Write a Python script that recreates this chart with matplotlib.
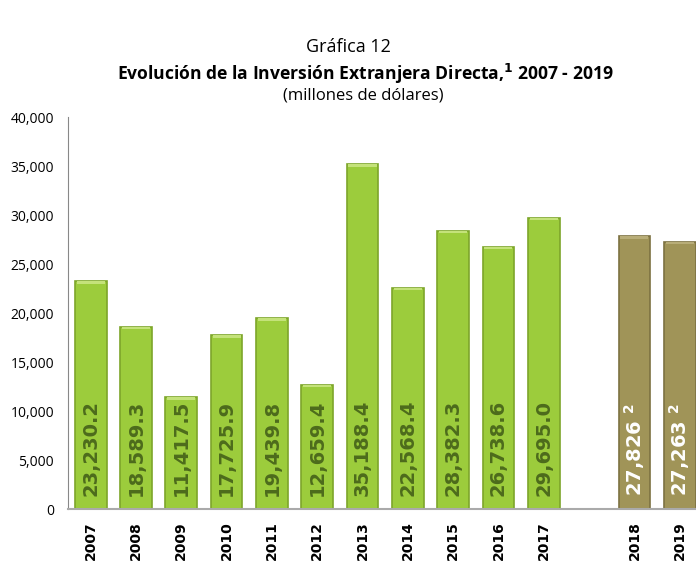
import matplotlib.pyplot as plt
from matplotlib import font_manager

years = ['2007', '2008', '2009', '2010', '2011', '2012', '2013', '2014', '2015', '2016', '2017', '2018', '2019']
values = [23230.2, 18589.3, 11417.5, 17725.9, 19439.8, 12659.4, 35188.4, 22568.4, 28382.3, 26738.6, 29695.0, 27826, 27263]
labels = ['23,230.2', '18,589.3', '11,417.5', '17,725.9', '19,439.8', '12,659.4', '35,188.4',
          '22,568.4', '28,382.3', '26,738.6', '29,695.0', '27,826', '27,263']
# posiciones: hueco entre 2017 y 2018
positions = [0, 1, 2, 3, 4, 5, 6, 7, 8, 9, 10, 12, 13]

names = {f.name for f in font_manager.fontManager.ttflist}
title_font = 'Liberation Sans Narrow' if 'Liberation Sans Narrow' in names else 'Open Sans'

fig = plt.figure(figsize=(6.96, 5.62), dpi=100)
ax = fig.add_axes([0.0977, 0.0943, 0.9023, 0.6975])

for i, (p, v) in enumerate(zip(positions, values)):
    est = i >= 11
    face = '#a09458' if est else '#9ccc3c'
    edge = '#7d7242' if est else '#7da52a'
    ax.bar(p, v, width=0.7, color=face, edgecolor=edge, linewidth=1.2, zorder=2)
    # brillo superior
    ax.bar(p, 250, bottom=v - 250, width=0.62, color='#c4e27a' if not est else '#b8ad78',
           linewidth=0, zorder=3)
    if est:
        ax.text(p, 1300, labels[i] + r' $^{\mathbf{2}}$', rotation=90, ha='center', va='bottom',
                fontsize=14, fontweight='bold', color='white', family='DejaVu Sans', zorder=4)
    else:
        ax.text(p, 1300, labels[i], rotation=90, ha='center', va='bottom',
                fontsize=14, fontweight='bold', color='#4d6b1c', family='DejaVu Sans', zorder=4)

ax.set_xlim(-0.5, 13.36)
ax.set_ylim(0, 40000)
ax.set_yticks(range(0, 40001, 5000))
ax.set_yticklabels([f'{t:,}' for t in range(0, 40001, 5000)], fontsize=10, family=title_font)
ax.set_xticks(positions)
ax.set_xticklabels(years, rotation=90, fontsize=10, fontweight='bold', family='DejaVu Sans')
ax.tick_params(axis='y', length=0, pad=10)
ax.tick_params(axis='x', length=0, pad=9)
for s in ['top', 'right']:
    ax.spines[s].set_visible(False)
ax.spines['left'].set_color('#888888')
ax.spines['bottom'].set_color('#aaaaaa')
ax.spines['bottom'].set_linewidth(1.5)

fig.text(0.5, 1 - 47 / 562, 'Gráfica 12', ha='center', va='center', fontsize=13, family=title_font)
fig.text(365 / 696, 1 - 74 / 562, r'Evolución de la Inversión Extranjera Directa,$^{\mathbf{1}}$ 2007 - 2019',
         ha='center', va='center', fontsize=12.6, fontweight='bold', family=title_font)
fig.text(363 / 696, 1 - 96 / 562, '(millones de dólares)', ha='center', va='center', fontsize=12, family=title_font)

plt.savefig('out.png', dpi=100)
